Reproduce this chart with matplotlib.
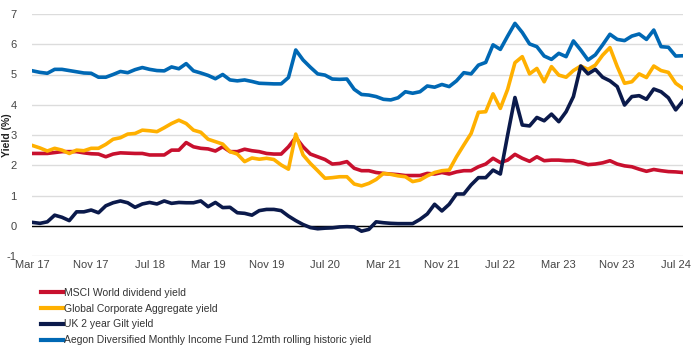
import matplotlib
matplotlib.use("Agg")
import matplotlib.pyplot as plt

# monthly points, Mar 2017 onwards (index 0 = Mar 17)
msci = [2.39, 2.39, 2.39, 2.42, 2.45, 2.45, 2.45, 2.41, 2.38, 2.37, 2.28, 2.37,
        2.41, 2.40, 2.39, 2.39, 2.34, 2.34, 2.34, 2.50, 2.50, 2.75, 2.61, 2.56,
        2.54, 2.47, 2.61, 2.45, 2.45, 2.53, 2.48, 2.45, 2.39, 2.37, 2.37, 2.61,
        2.92, 2.61, 2.37, 2.28, 2.19, 2.04, 2.06, 2.12, 1.90, 1.82, 1.82, 1.76,
        1.73, 1.71, 1.69, 1.66, 1.66, 1.66, 1.73, 1.71, 1.76, 1.71, 1.78, 1.82,
        1.82, 1.95, 2.04, 2.23, 2.09, 2.17, 2.36, 2.23, 2.13, 2.28, 2.15, 2.17,
        2.17, 2.15, 2.15, 2.09, 2.02, 2.04, 2.08, 2.15, 2.04, 1.98, 1.95, 1.87,
        1.80, 1.86, 1.82, 1.79, 1.78, 1.76]
corp = [2.65, 2.57, 2.47, 2.56, 2.50, 2.39, 2.50, 2.48, 2.56, 2.56, 2.69, 2.86,
        2.91, 3.03, 3.05, 3.16, 3.14, 3.11, 3.24, 3.38, 3.49, 3.38, 3.16, 3.09,
        2.86, 2.78, 2.70, 2.45, 2.37, 2.12, 2.24, 2.20, 2.23, 2.19, 2.01, 1.87,
        3.03, 2.34, 2.06, 1.82, 1.57, 1.59, 1.62, 1.62, 1.38, 1.32, 1.40, 1.53,
        1.73, 1.70, 1.65, 1.62, 1.46, 1.51, 1.65, 1.76, 1.82, 1.84, 2.28, 2.67,
        3.05, 3.75, 3.77, 4.36, 3.88, 4.51, 5.39, 5.59, 5.02, 5.20, 4.76, 5.26,
        4.98, 4.91, 5.13, 5.28, 5.17, 5.31, 5.64, 5.89, 5.26, 4.71, 4.76, 5.02,
        4.90, 5.28, 5.13, 5.07, 4.71, 4.54]
gilt = [0.11, 0.08, 0.13, 0.35, 0.28, 0.17, 0.46, 0.46, 0.52, 0.43, 0.66, 0.76,
        0.82, 0.76, 0.61, 0.72, 0.77, 0.72, 0.82, 0.74, 0.77, 0.76, 0.76, 0.82,
        0.63, 0.77, 0.60, 0.61, 0.43, 0.41, 0.35, 0.50, 0.54, 0.54, 0.50, 0.32,
        0.17, 0.04, -0.06, -0.10, -0.08, -0.07, -0.04, -0.03, -0.04, -0.18, -0.12, 0.13,
        0.10, 0.08, 0.07, 0.07, 0.07, 0.21, 0.39, 0.71, 0.49, 0.71, 1.05, 1.05,
        1.35, 1.59, 1.59, 1.84, 1.71, 3.00, 4.24, 3.33, 3.30, 3.58, 3.47, 3.69,
        3.44, 3.77, 4.27, 5.28, 5.02, 5.17, 4.91, 4.79, 4.60, 3.99, 4.27, 4.30,
        4.18, 4.52, 4.43, 4.23, 3.83, 4.13]
aegon = [5.12, 5.07, 5.04, 5.17, 5.17, 5.13, 5.09, 5.05, 5.04, 4.91, 4.91, 5.00,
         5.10, 5.06, 5.16, 5.23, 5.17, 5.13, 5.12, 5.25, 5.19, 5.36, 5.12, 5.05,
         4.97, 4.86, 5.00, 4.82, 4.79, 4.82, 4.77, 4.71, 4.70, 4.69, 4.69, 4.90,
         5.81, 5.48, 5.24, 5.02, 4.98, 4.85, 4.84, 4.85, 4.51, 4.34, 4.32, 4.27,
         4.18, 4.16, 4.23, 4.43, 4.38, 4.43, 4.62, 4.58, 4.67, 4.60, 4.79, 5.06,
         5.02, 5.31, 5.40, 5.98, 5.83, 6.27, 6.69, 6.39, 6.01, 5.92, 5.61, 5.50,
         5.70, 5.59, 6.11, 5.81, 5.48, 5.65, 5.98, 6.33, 6.16, 6.12, 6.27, 6.34,
         6.16, 6.47, 5.92, 5.90, 5.61, 5.62]
tick_labels = ["Mar 17", "Nov 17", "Jul 18", "Mar 19", "Nov 19", "Jul 20",
               "Mar 21", "Nov 21", "Jul 22", "Mar 23", "Nov 23", "Jul 24"]
names = ["MSCI World dividend yield", "Global Corporate Aggregate yield",
         "UK 2 year Gilt yield",
         "Aegon Diversified Monthly Income Fund 12mth rolling historic yield"]
colors = ["#c8102e", "#ffb000", "#0b1a4b", "#0068b4"]

plt.rcParams['font.family'] = ['Liberation Sans', 'DejaVu Sans']
plt.rcParams['axes.unicode_minus'] = False

fig = plt.figure(figsize=(7, 3.6), dpi=100)
ax = fig.add_axes([32/700, 1 - 256/360, 651/700, 242/360])

x = list(range(len(aegon)))
for series, col in zip([msci, corp, gilt, aegon], colors):
    ax.plot(x, series, color=col, lw=2.6, solid_joinstyle='round', zorder=3)

ax.axhline(0, color="black", lw=1, zorder=2)
ax.set_ylim(-1, 7)
ax.set_xlim(-0.1, 89.0)
ax.set_yticks(range(-1, 8))
ax.set_xticks(range(0, 89, 8))
ax.set_xticklabels(tick_labels)
ax.yaxis.grid(True, color="#dcdcdc", lw=1)
ax.set_axisbelow(True)
for s in ax.spines.values():
    s.set_visible(False)
ax.tick_params(axis='both', length=0, labelsize=8, colors="#444444")
ax.tick_params(axis='y', pad=11)
ax.tick_params(axis='x', pad=3)
fig.text(7/700, 1 - 135/360, "Yield (%)", rotation=90, ha="center", va="center",
         fontsize=7.5, fontweight='bold', color="#222222")

handles = [plt.Line2D([], [], color=c, lw=3) for c in colors]
fig.legend(handles, names, loc="upper left", bbox_to_anchor=(41/700, 1 - 288/360),
           frameon=False, handlelength=2.1, handletextpad=0.15,
           labelspacing=0.55, borderaxespad=0, borderpad=0,
           prop={'size': 7.5}, labelcolor="#333333")

fig.savefig("out.png", dpi=100)
